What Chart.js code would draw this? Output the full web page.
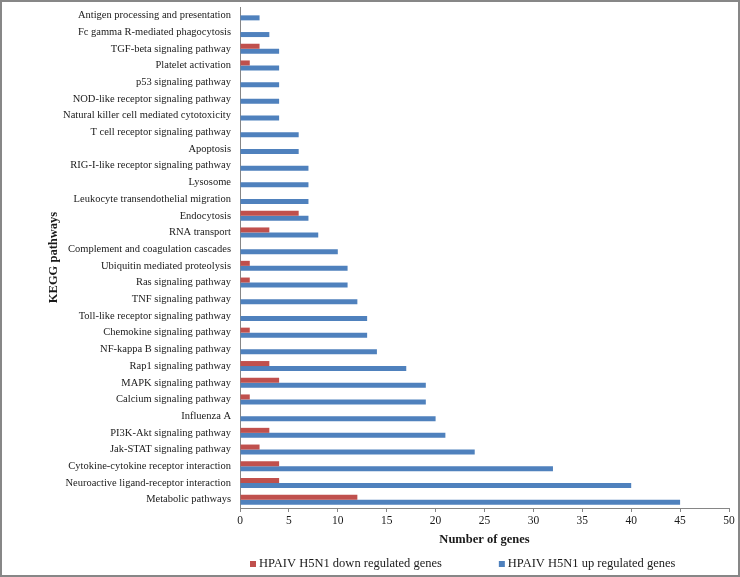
<!DOCTYPE html>
<html>
<head>
<meta charset="utf-8">
<script src="https://cdn.jsdelivr.net/npm/chart.js@4/dist/chart.umd.min.js"></script>
<style>
    body { margin: 0; background: #fff; }
    #wrap {
        position: relative;
        width: 740px;
        height: 577px;
        box-sizing: border-box;
        border: 2px solid #878787;
        background: #fff;
    }
</style>
</head>
<body>
<div id="wrap"><canvas id="keggChart"></canvas></div>
<script>
// --- KEGG pathway data (top to bottom as in the figure) ---
const pathways = [
    'Antigen processing and presentation',
    'Fc gamma R-mediated phagocytosis',
    'TGF-beta signaling pathway',
    'Platelet activation',
    'p53 signaling pathway',
    'NOD-like receptor signaling pathway',
    'Natural killer cell mediated cytotoxicity',
    'T cell receptor signaling pathway',
    'Apoptosis',
    'RIG-I-like receptor signaling pathway',
    'Lysosome',
    'Leukocyte transendothelial migration',
    'Endocytosis',
    'RNA transport',
    'Complement and coagulation cascades',
    'Ubiquitin mediated proteolysis',
    'Ras signaling pathway',
    'TNF signaling pathway',
    'Toll-like receptor signaling pathway',
    'Chemokine signaling pathway',
    'NF-kappa B signaling pathway',
    'Rap1 signaling pathway',
    'MAPK signaling pathway',
    'Calcium signaling pathway',
    'Influenza A',
    'PI3K-Akt signaling pathway',
    'Jak-STAT signaling pathway',
    'Cytokine-cytokine receptor interaction',
    'Neuroactive ligand-receptor interaction',
    'Metabolic pathways'
];

const downGenes = [0, 0, 2, 1, 0, 0, 0, 0, 0, 0, 0, 0, 6, 3, 0, 1, 1, 0, 0, 1, 0, 3, 4, 1, 0, 3, 2, 4, 4, 12];
const upGenes   = [2, 3, 4, 4, 4, 4, 4, 6, 6, 7, 7, 7, 7, 8, 10, 11, 11, 12, 13, 13, 14, 17, 19, 19, 20, 21, 24, 32, 40, 45];

const xTicks = [0, 5, 10, 15, 20, 25, 30, 35, 40, 45, 50];

const seriesNames = ['HPAIV H5N1 down regulated genes', 'HPAIV H5N1 up regulated genes'];

// --- Styling ---
const RED = '#C0504D';
const BLUE = '#4F81BD';
const AXIS = '#868686';
const TEXT = '#1a1a1a';
const SERIF = '"Liberation Serif", "Times New Roman", serif';

// --- Legend drawn under the axis title (Excel style placement) ---
const bottomLegend = {
    id: 'bottomLegend',
    afterDraw(chart) {
        const ctx = chart.ctx;
        const area = chart.chartArea;
        const y = chart.height - 11;
        let x = area.left + 10;
        ctx.save();
        ctx.font = '12.5px ' + SERIF;
        ctx.textBaseline = 'middle';
        ctx.textAlign = 'left';
        chart.data.datasets.forEach(ds => {
            ctx.fillStyle = ds.backgroundColor;
            ctx.fillRect(x, y - 3, 6, 6);
            ctx.fillStyle = TEXT;
            ctx.fillText(ds.label, x + 9, y);
            x += 9 + ctx.measureText(ds.label).width + 57;
        });
        ctx.restore();
    }
};

const ctx = document.getElementById('keggChart').getContext('2d');

new Chart(ctx, {
    type: 'bar',
    data: {
        labels: pathways,
        datasets: [
            {
                label: seriesNames[0],
                data: downGenes,
                backgroundColor: RED,
                borderWidth: 0
            },
            {
                label: seriesNames[1],
                data: upGenes,
                backgroundColor: BLUE,
                borderWidth: 0
            }
        ]
    },
    options: {
        indexAxis: 'y',
        responsive: true,
        maintainAspectRatio: false,
        animation: false,
        categoryPercentage: 0.6,
        barPercentage: 1.0,
        layout: {
            padding: { top: 5, right: 9, bottom: 25, left: 0 }
        },
        scales: {
            x: {
                min: 0,
                max: 50,
                afterBuildTicks: axis => {
                    axis.ticks = xTicks.map(v => ({ value: v }));
                },
                afterFit: axis => { axis.height = 42; },
                grid: {
                    drawOnChartArea: false,
                    drawTicks: true,
                    tickLength: 4,
                    color: AXIS
                },
                border: { color: AXIS, width: 1 },
                ticks: {
                    padding: 2,
                    color: TEXT,
                    font: { family: SERIF, size: 11.5 }
                },
                title: {
                    display: true,
                    text: 'Number of genes',
                    color: TEXT,
                    padding: { top: 4, bottom: 2.5 },
                    font: { family: SERIF, size: 12.5, weight: 'bold' }
                }
            },
            y: {
                afterFit: axis => {
                    axis.width = 238;
                    axis.paddingTop = 0;
                    axis.paddingBottom = 0;
                },
                grid: { display: false, drawTicks: false },
                border: { color: AXIS, width: 1 },
                ticks: {
                    padding: 9,
                    autoSkip: false,
                    color: TEXT,
                    font: { family: SERIF, size: 10.5 }
                },
                title: {
                    display: true,
                    text: 'KEGG pathways',
                    color: TEXT,
                    padding: { top: 44.5, bottom: 0 },
                    font: { family: SERIF, size: 12.5, weight: 'bold' }
                }
            }
        },
        plugins: {
            legend: { display: false },
            tooltip: { enabled: false }
        }
    },
    plugins: [bottomLegend]
});
</script>
</body>
</html>
